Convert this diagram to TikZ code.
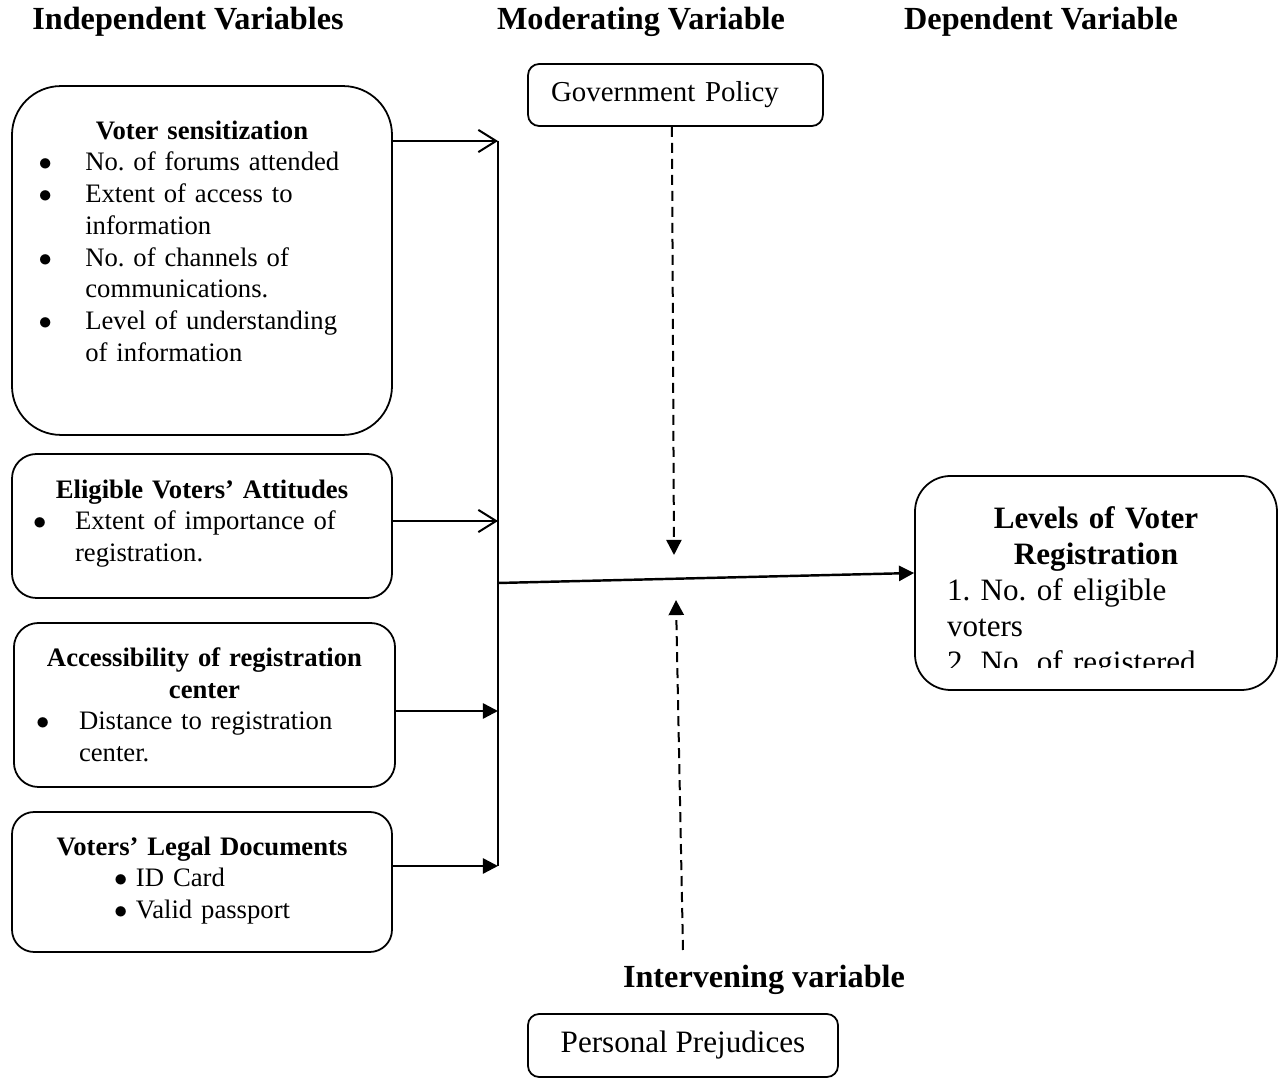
\documentclass[tikz,border=0pt]{standalone}
\usepackage{fontspec}
\setmainfont{Liberation Serif}
\usetikzlibrary{arrows.meta, positioning}
\newcommand{\bitem}[3]{\par\noindent\hangindent=#2\hangafter=1\makebox[#2][l]{\hspace*{#1}$\bullet$}#3}

\begin{document}
\frenchspacing
\begin{tikzpicture}[x=0.45pt, y=-0.45pt,
    varbox/.style={draw, line width=0.8pt, inner sep=0pt},
    boxtext/.style={inner sep=0pt, align=left, font=\fontsize{12}{14.3}\selectfont\frenchspacing},
    heading/.style={font=\fontsize{14.5}{16}\selectfont\bfseries},
    feed/.style={line width=1.1pt},
    openhead/.style={-{Straight Barb[length=8pt, width=10pt, line width=0.9pt]}},
    fillhead/.style={-{Triangle[length=6.8pt, width=6.8pt]}},
    modline/.style={line width=0.9pt, dash pattern=on 4.5pt off 2.7pt, -{Triangle[length=6.8pt, width=6.8pt]}}]

\useasboundingbox (0,0) rectangle (1279,1078);

% Headings
\node[heading] (indep) at (188,22) {Independent Variables};
\node[heading] (moder) at (641,22) {Moderating Variable};
\node[heading] (depend) at (1041,22) {Dependent Variable};

% Independent variables
\node[varbox, rounded corners=22pt, minimum width=171pt, minimum height=157pt] (sens) at (202,260.5) {};
\node[boxtext, text width=171pt, below=15.75pt of sens.north] (senstext) {%
  {\centering\bfseries Voter sensitization\par}
  \bitem{12pt}{33pt}{No. of forums attended}
  \bitem{12pt}{33pt}{Extent of access to\newline information}
  \bitem{12pt}{33pt}{No. of channels of\newline communications.}
  \bitem{12pt}{33pt}{Level of understanding\newline of information}\par};

\node[varbox, rounded corners=11pt, minimum width=171pt, minimum height=64.8pt] (att) at (202,526) {};
\node[boxtext, text width=171pt, below=11.7pt of att.north] (atttext) {%
  {\centering\bfseries Eligible Voters’ Attitudes\par}
  \bitem{9.5pt}{28.4pt}{Extent of importance of\newline registration.}\par};

\node[varbox, rounded corners=11pt, minimum width=171.5pt, minimum height=73.8pt] (access) at (204.5,705) {};
\node[boxtext, text width=171.5pt, below=11.25pt of access.north] (accesstext) {%
  {\centering\bfseries Accessibility of registration\\center\par}
  \bitem{10pt}{29.3pt}{Distance to registration\newline center.}\par};

\node[varbox, rounded corners=10pt, minimum width=171pt, minimum height=63pt] (legal) at (202,882) {};
\node[boxtext, text width=171pt, below=11.25pt of legal.north] (legaltext) {%
  {\centering\bfseries Voters’ Legal Documents\par}
  \bitem{46pt}{55.8pt}{ID Card}
  \bitem{46pt}{55.8pt}{Valid passport}\par};

% Moderating and intervening variables
\node[varbox, rounded corners=5pt, minimum height=27.9pt, text width=112pt, inner xsep=10.35pt,
  align=left, font=\fontsize{13}{15}\selectfont] (gov) at (675.5,95) {Government Policy};
\node[heading] (interv) at (764,980) {Intervening variable};
\node[varbox, rounded corners=5pt, minimum width=139.5pt, minimum height=28.35pt,
  font=\fontsize{14}{16}\selectfont] (prej) at (683,1045.5) {Personal Prejudices};

% Dependent variable
\node[varbox, rounded corners=16pt, minimum width=162.9pt, minimum height=96.3pt] (levels) at (1096,583) {};
\begin{scope}
  \clip (915,476) rectangle (1277,668);
  \node[boxtext, text width=162.9pt, font=\fontsize{14}{16.2}\selectfont\frenchspacing, below=14pt of levels.north] (levelstext) {%
    {\centering\bfseries Levels of Voter\\Registration\par}
    {\leftskip=14.4pt 1. No. of eligible\newline voters\newline 2. No. of registered\par}};
\end{scope}

% Connectors
\coordinate (b1) at (498,141);
\coordinate (b2) at (498,521);
\coordinate (bm) at (498,583);
\coordinate (b3) at (498,711);
\coordinate (b4) at (498,866);
\draw[feed] (b1) -- (b4);
\draw[feed, openhead] (sens.east |- b1) -- (b1);
\draw[feed, openhead] (att.east |- b2) -- (b2);
\draw[feed, fillhead] (access.east |- b3) -- (b3);
\draw[feed, fillhead] (legal.east |- b4) -- (b4);
\draw[feed, fillhead] (bm) -- ([yshift=4.5pt]levels.west);

\coordinate (govtip) at (674,555);
\coordinate (intbase) at (683,950);
\coordinate (inttip) at (676,600);
\draw[modline] ([xshift=-1.6pt]gov.south) -- (govtip);
\draw[modline] (intbase) -- (inttip);
\end{tikzpicture}
\end{document}
